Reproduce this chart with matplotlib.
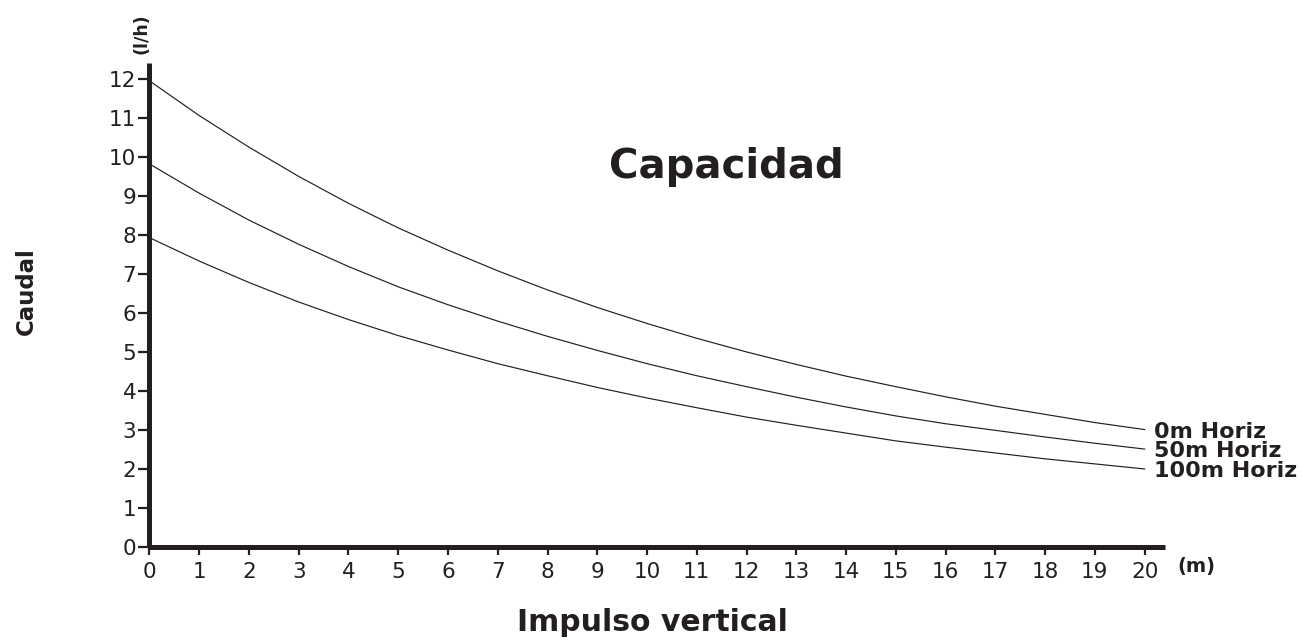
import matplotlib
matplotlib.use("Agg")
import matplotlib.pyplot as plt

plt.rcParams['font.family'] = ['DejaVu Sans']

# impulso vertical (m)
x_m = list(range(0, 21))
# caudal (l/h) for each horizontal distance
q_0m = [11.95, 11.06, 10.25, 9.50, 8.81, 8.18, 7.61, 7.08, 6.59, 6.14, 5.73,
        5.35, 5.00, 4.68, 4.38, 4.11, 3.85, 3.61, 3.40, 3.19, 3.01]
q_50m = [9.82, 9.07, 8.38, 7.76, 7.19, 6.67, 6.21, 5.79, 5.40, 5.04, 4.70,
         4.39, 4.11, 3.84, 3.59, 3.36, 3.16, 2.99, 2.82, 2.66, 2.51]
q_100m = [7.93, 7.33, 6.78, 6.28, 5.83, 5.42, 5.05, 4.70, 4.39, 4.09, 3.82,
          3.57, 3.33, 3.12, 2.92, 2.72, 2.56, 2.41, 2.26, 2.13, 2.00]
series = [('0m Horiz', q_0m), ('50m Horiz', q_50m), ('100m Horiz', q_100m)]

fig = plt.figure(figsize=(13.02, 6.42), dpi=100)
ax = fig.add_axes([0.1148, 0.148, 0.7796, 0.754])

ink = '#231f20'
for name, q in series:
    ax.plot(x_m, q, color=ink, linewidth=0.85)
    ax.annotate(name, (x_m[-1], q[-1]), xytext=(7, -5.8),
                textcoords='offset points', fontsize=16, fontweight='bold',
                color=ink, ha='left', va='baseline')

ax.set_xlim(0, 20.4)
ax.set_ylim(0, 12.41)
ax.set_xticks(range(0, 21))
ax.set_yticks(range(0, 13))

for s in ('top', 'right'):
    ax.spines[s].set_visible(False)
for s in ('left', 'bottom'):
    ax.spines[s].set_linewidth(3.6)
    ax.spines[s].set_color(ink)
    ax.spines[s].set_capstyle('butt')

ax.tick_params(axis='both', direction='out', width=1.6, color=ink,
               labelsize=15.5, labelcolor=ink)
ax.tick_params(axis='y', length=8, pad=1.5)
ax.tick_params(axis='x', length=6, pad=4.5)

ax.text(0.568, 0.762, 'Capacidad', transform=ax.transAxes, fontsize=29,
        fontweight='bold', color=ink, ha='center', va='baseline')
fig.text(0.501, 0.0171, 'Impulso vertical', fontsize=21.5, fontweight='bold',
         color=ink, ha='center', va='baseline')
fig.text(0.020, 0.546, 'Caudal', fontsize=16.5, fontweight='bold', color=ink,
         rotation=90, ha='center', va='center')
fig.text(0.1083, 0.947, '(l/h)', fontsize=12.5, fontweight='bold', color=ink,
         rotation=90, ha='center', va='center')
fig.text(0.904, 0.118, '(m)', fontsize=14, fontweight='bold', color=ink,
         ha='left', va='center')

fig.savefig('out.png', dpi=100, facecolor='white')
